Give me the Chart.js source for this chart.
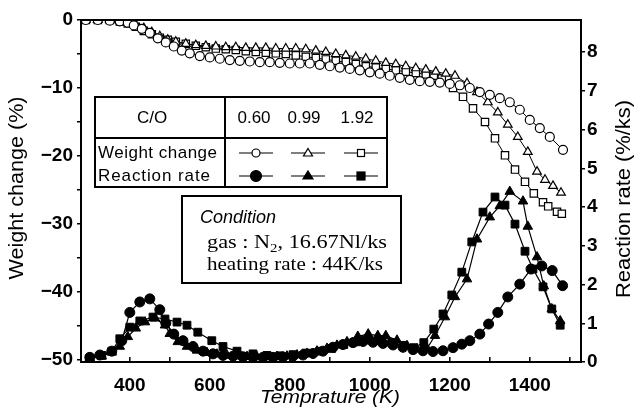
<!DOCTYPE html>
<html><head><meta charset="utf-8">
<script src="https://cdn.jsdelivr.net/npm/chart.js@4.4.1/dist/chart.umd.min.js"></script>
<style>
html,body{margin:0;padding:0;background:#fff;}
#wrap{position:relative;width:636px;height:407px;overflow:hidden;}
#c{position:absolute;left:0;top:0;}
#ov{position:absolute;left:0;top:0;pointer-events:none;}
</style></head><body>
<div id="wrap">
<canvas id="c" width="636" height="407"></canvas>
<svg id="ov" width="636" height="407" xmlns="http://www.w3.org/2000/svg">
  <g font-family="Liberation Sans, Arial, sans-serif" fill="#000">
    <text x="23" y="188" transform="rotate(-90 23 188)" text-anchor="middle" font-size="20" textLength="183" lengthAdjust="spacingAndGlyphs">Weight change (%)</text>
    <text x="630" y="199" transform="rotate(-90 630 199)" text-anchor="middle" font-size="20" textLength="198" lengthAdjust="spacingAndGlyphs">Reaction rate (%/ks)</text>
    <text x="330" y="403" text-anchor="middle" font-size="19" font-style="italic" textLength="140" lengthAdjust="spacingAndGlyphs">Temprature (K)</text>
  </g>
  <!-- legend table -->
  <g stroke="#000" stroke-width="2" fill="#fff">
    <rect x="95" y="97" width="292" height="90"/>
    <line x1="225" y1="97" x2="225" y2="187"/>
    <line x1="95" y1="138" x2="387" y2="138"/>
  </g>
  <g font-family="Liberation Sans, Arial, sans-serif" font-size="17" fill="#000">
    <text x="152" y="123" text-anchor="middle">C/O</text>
    <text x="254" y="123" text-anchor="middle">0.60</text>
    <text x="304" y="123" text-anchor="middle">0.99</text>
    <text x="357" y="123" text-anchor="middle">1.92</text>
    <text x="98" y="158" textLength="119" lengthAdjust="spacing">Weight change</text>
    <text x="98" y="181" textLength="112" lengthAdjust="spacing">Reaction rate</text>
  </g>
  <g stroke="#000" stroke-width="1.2">
    <line x1="239" y1="153" x2="273" y2="153"/>
    <line x1="291" y1="153" x2="325" y2="153"/>
    <line x1="344" y1="153" x2="378" y2="153"/>
    <line x1="239" y1="176" x2="273" y2="176"/>
    <line x1="291" y1="176" x2="325" y2="176"/>
    <line x1="344" y1="176" x2="378" y2="176"/>
    <circle cx="256" cy="153" r="4" fill="#fff"/>
    <polygon points="308,148.5 312.5,156 303.5,156" fill="#fff"/>
    <rect x="357.5" y="149.5" width="7" height="7" fill="#fff"/>
    <circle cx="256" cy="176" r="5.5" fill="#000"/>
    <polygon points="308,171 313,179 303,179" fill="#000"/>
    <rect x="357" y="172" width="8" height="8" fill="#000"/>
  </g>
  <!-- condition box -->
  <rect x="182" y="196" width="219" height="87" fill="#fff" stroke="#000" stroke-width="2"/>
  <text x="200" y="223" font-family="Liberation Sans, Arial, sans-serif" font-style="italic" font-size="18" fill="#000">Condition</text>
  <text x="207" y="248" font-family="Liberation Serif, Times New Roman, serif" font-size="18" fill="#000" textLength="180" lengthAdjust="spacingAndGlyphs">gas :  N<tspan font-size="12" dy="4">2</tspan><tspan dy="-4">, 16.67Nl/ks</tspan></text>
  <text x="207" y="270" font-family="Liberation Serif, Times New Roman, serif" font-size="18" fill="#000" textLength="176" lengthAdjust="spacingAndGlyphs">heating rate : 44K/ks</text>
</svg>
</div>
<script>
// ---- data (temperature K, weight change %) ----
const tW060 = [290,320,350,375,395,410,430,450,470,490,510,530,550,575,600,625,650,675,700,725,750,775,800,825,850,875,900,925,950,975,1000,1025,1050,1075,1100,1125,1150,1175,1200,1225,1250,1275,1300,1325,1350,1375,1400,1425,1450,1483];
const wW060 = [0,0,-0.1,-0.2,-0.4,-0.8,-1.3,-1.9,-2.7,-3.3,-3.9,-4.5,-4.9,-5.3,-5.5,-5.7,-5.9,-6.0,-6.1,-6.2,-6.2,-6.3,-6.4,-6.4,-6.4,-6.6,-6.8,-7.0,-7.2,-7.4,-7.7,-7.9,-8.2,-8.5,-8.8,-9.0,-9.1,-9.2,-9.4,-9.6,-10.0,-10.6,-11.0,-11.5,-12.1,-13.2,-14.7,-15.9,-17.2,-19.1];

const tW099 = [290,320,350,375,395,415,435,455,475,495,515,540,565,590,615,640,665,690,715,740,765,790,815,840,865,890,915,940,965,990,1015,1040,1065,1090,1115,1140,1165,1190,1213,1243,1268,1295,1320,1345,1370,1395,1418,1438,1458,1478];
const wW099 = [0,0,0,-0.1,-0.3,-0.7,-1.2,-1.8,-2.4,-2.9,-3.2,-3.5,-3.7,-3.8,-3.9,-4.0,-4.0,-4.1,-4.1,-4.1,-4.2,-4.2,-4.2,-4.3,-4.5,-4.7,-5.0,-5.2,-5.4,-5.7,-6.0,-6.3,-6.5,-6.8,-7.1,-7.3,-7.6,-7.9,-8.2,-9.3,-10.6,-12.1,-13.6,-15.4,-17.2,-19.4,-22.3,-23.5,-24.4,-25.4];

const tW192 = [290,320,350,375,395,415,435,455,475,495,515,540,565,590,615,640,665,690,715,740,765,790,815,840,865,890,915,940,965,990,1015,1040,1065,1090,1115,1140,1160,1180,1208,1233,1258,1288,1313,1338,1363,1388,1410,1433,1446,1468,1480];
const wW192 = [0,0,0,-0.2,-0.5,-1.0,-1.6,-2.1,-2.6,-2.9,-3.2,-3.5,-3.8,-4.0,-4.2,-4.3,-4.4,-4.6,-4.7,-4.8,-4.9,-5.0,-5.2,-5.4,-5.6,-5.8,-6.0,-6.2,-6.5,-6.8,-7.0,-7.2,-7.4,-7.6,-7.8,-8.0,-8.2,-8.6,-10.0,-11.3,-13.0,-15.0,-17.4,-19.9,-22.0,-23.8,-25.5,-26.8,-27.4,-28.2,-28.5];

// ---- data (temperature K, reaction rate %/ks) ----
const tR060 = [300,325,355,380,400,425,450,475,490,510,533,558,583,608,633,658,683,708,733,758,783,808,833,858,883,908,933,958,983,1008,1033,1058,1083,1108,1133,1158,1183,1208,1230,1250,1275,1297,1320,1345,1375,1403,1430,1456,1482];
const rR060 = [0.12,0.18,0.28,0.55,1.28,1.55,1.63,1.35,1.0,0.72,0.55,0.40,0.28,0.21,0.17,0.15,0.13,0.12,0.12,0.12,0.13,0.15,0.18,0.22,0.28,0.38,0.45,0.50,0.53,0.51,0.48,0.44,0.38,0.32,0.29,0.27,0.29,0.37,0.46,0.55,0.72,0.98,1.28,1.68,2.01,2.40,2.48,2.36,1.97];

const tR099 = [300,330,355,375,395,415,438,463,488,500,520,543,568,593,618,643,668,693,718,743,768,793,818,843,868,893,918,943,970,996,1020,1040,1068,1093,1118,1143,1163,1188,1213,1243,1268,1300,1325,1350,1383,1395,1418,1435,1455,1476];
const rR099 = [0.10,0.15,0.25,0.40,0.65,0.87,1.03,1.13,0.95,0.73,0.52,0.40,0.30,0.24,0.20,0.17,0.15,0.14,0.13,0.13,0.14,0.15,0.18,0.22,0.28,0.35,0.43,0.52,0.66,0.72,0.68,0.68,0.56,0.42,0.33,0.35,0.68,1.16,1.68,2.14,3.17,3.74,4.03,4.40,4.15,3.50,2.71,1.96,1.37,1.06];

const tR192 = [300,330,355,375,400,425,458,488,518,543,570,605,633,668,708,743,775,808,840,875,905,935,965,995,1025,1055,1085,1110,1135,1160,1183,1205,1230,1255,1283,1313,1338,1363,1388,1408,1433,1455,1476];
const rR192 = [0.10,0.17,0.28,0.60,0.90,1.06,1.16,1.11,1.03,0.95,0.77,0.55,0.40,0.28,0.21,0.17,0.16,0.19,0.23,0.28,0.35,0.45,0.52,0.57,0.55,0.50,0.43,0.37,0.50,0.85,1.24,1.73,2.32,3.10,3.87,4.26,4.05,3.56,2.86,2.40,1.94,1.37,0.95];

const xTicks = [300,400,500,600,700,800,900,1000,1100,1200,1300,1400,1500];
const yTicks = [-50,-45,-40,-35,-30,-25,-20,-15,-10,-5,0];
const y2Ticks = [0,1,2,3,4,5,6,7,8];

const pts = (t, v) => t.map((x, i) => ({x: x, y: v[i]}));

function openSet(t, v, style, r) {
  return {data: pts(t, v), yAxisID: 'y', borderColor: '#000', borderWidth: 1,
    pointStyle: style, pointRadius: r, pointBackgroundColor: '#fff',
    pointBorderColor: '#000', pointBorderWidth: 1.2, tension: 0, fill: false};
}
function filledSet(t, v, style, r) {
  return {data: pts(t, v), yAxisID: 'y2', borderColor: '#000', borderWidth: 1.2,
    pointStyle: style, pointRadius: r, pointBackgroundColor: '#000',
    pointBorderColor: '#000', pointBorderWidth: 1, tension: 0, fill: false};
}

const frame = {
  id: 'frame',
  afterDraw(chart) {
    const {ctx, chartArea: a, scales} = chart;
    ctx.save();
    ctx.strokeStyle = '#000';
    ctx.lineWidth = 2;
    ctx.beginPath();
    ctx.moveTo(a.left, a.top); ctx.lineTo(a.right, a.top);
    ctx.stroke();
    ctx.lineWidth = 1.5;
    xTicks.forEach(v => {
      const px = scales.x.getPixelForValue(v);
      ctx.beginPath(); ctx.moveTo(px, a.bottom); ctx.lineTo(px, a.bottom - 5); ctx.stroke();
    });
    ctx.restore();
  }
};

const tickFont = {family: 'Liberation Sans, Arial, sans-serif', size: 19, weight: 'bold'};

new Chart(document.getElementById('c'), {
  type: 'line',
  data: {datasets: [
    openSet(tW060, wW060, 'circle', 4.5),
    openSet(tW099, wW099, 'triangle', 5),
    openSet(tW192, wW192, 'rect', 5.2),
    filledSet(tR060, rR060, 'circle', 5),
    filledSet(tR099, rR099, 'triangle', 5.5),
    filledSet(tR192, rR192, 'rect', 5.5)
  ]},
  options: {
    responsive: false, animation: false, devicePixelRatio: 1,
    layout: {padding: {top: 20, left: 0, right: 0, bottom: 0}},
    plugins: {legend: {display: false}, tooltip: {enabled: false}},
    scales: {
      x: {type: 'linear', position: 'bottom', min: 278, max: 1528,
        afterBuildTicks: s => { s.ticks = xTicks.map(v => ({value: v})); },
        afterFit: s => { s.height = 45; },
        grid: {display: false},
        border: {display: true, color: '#000', width: 2},
        ticks: {color: '#000', font: tickFont, padding: 4, autoSkip: false, maxRotation: 0,
          callback: v => (v % 200 === 0 && v >= 400 && v <= 1400) ? String(v) : ''}
      },
      y: {position: 'left', min: -50.3, max: 0,
        afterBuildTicks: s => { s.ticks = yTicks.map(v => ({value: v})); },
        afterFit: s => { s.width = 81; },
        grid: {display: true, drawOnChartArea: false, drawTicks: true, tickLength: 4, color: '#000', lineWidth: 1.5},
        border: {display: true, color: '#000', width: 2},
        ticks: {color: '#000', font: tickFont, padding: 4, autoSkip: false,
          callback: v => (v % 10 === 0) ? (v < 0 ? '\u2212' + Math.abs(v) : '0') : ''}
      },
      y2: {position: 'right', min: 0, max: 8.83,
        afterBuildTicks: s => { s.ticks = y2Ticks.map(v => ({value: v})); },
        afterFit: s => { s.width = 55; },
        grid: {display: true, drawOnChartArea: false, drawTicks: true, tickLength: 4, color: '#000', lineWidth: 1.5},
        border: {display: true, color: '#000', width: 2},
        ticks: {color: '#000', font: tickFont, padding: 2, autoSkip: false,
          callback: v => String(v)}
      }
    }
  },
  plugins: [frame]
});
</script>
</body></html>
